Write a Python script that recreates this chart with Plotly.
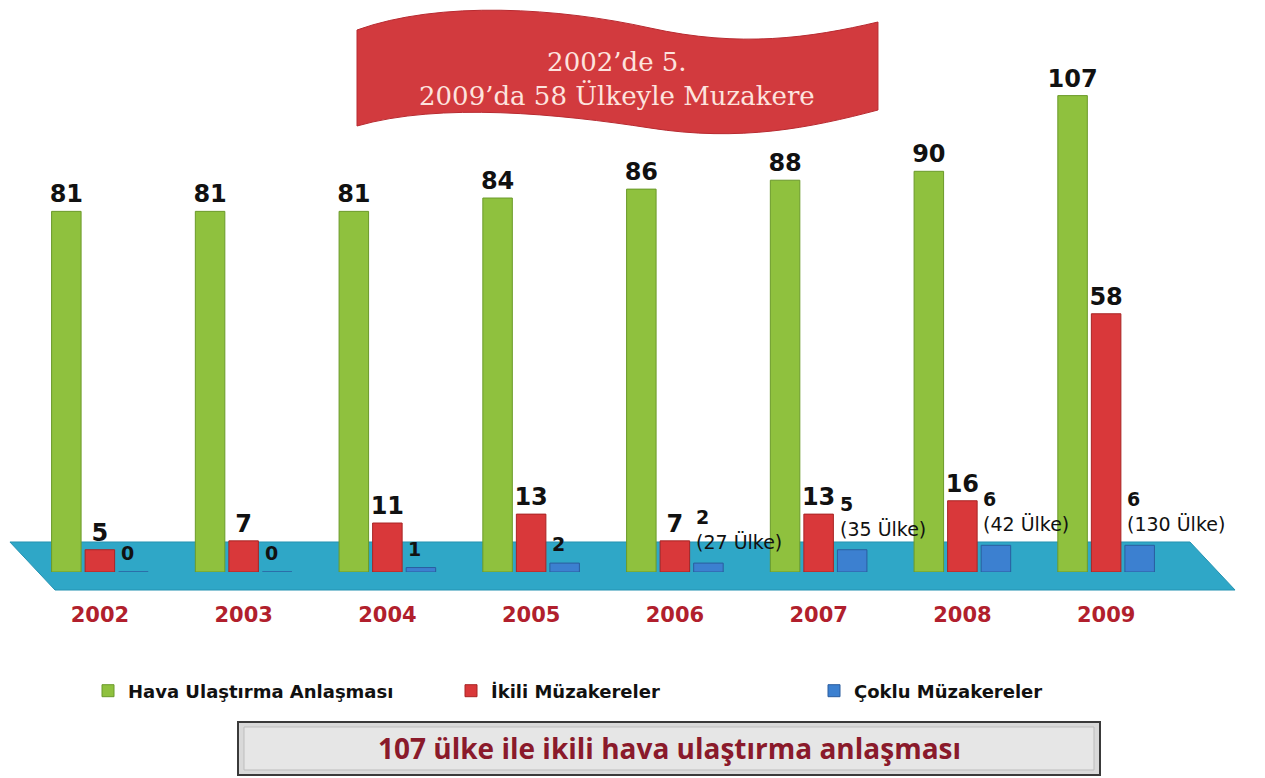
import plotly.graph_objects as go

# ---------------- data ----------------
years = ["2002", "2003", "2004", "2005", "2006", "2007", "2008", "2009"]
hava = [81, 81, 81, 84, 86, 88, 90, 107]          # Hava Ulaştırma Anlaşması
ikili = [5, 7, 11, 13, 7, 13, 16, 58]             # İkili Müzakereler
coklu = [0, 0, 1, 2, 2, 5, 6, 6]                  # Çoklu Müzakereler
coklu_ulke = [None, None, None, None, 27, 35, 42, 130]  # country counts in multilateral talks

series_names = ["Hava Ulaştırma Anlaşması", "İkili Müzakereler", "Çoklu Müzakereler"]
title_lines = ["2002’de 5.", "2009’da 58 Ülkeyle Muzakere"]
footer_text = "107 ülke ile ikili hava ulaştırma anlaşması"

# ---------------- layout geometry ----------------
W, H = 1265, 778
ML, MR, MT, MB = 28, 87, 60, 206
PW, PH = W - ML - MR, H - MT - MB
BASE = H - MB  # pixel row of y = 0


def px(x):
    return (x - ML) / PW


def py(y):
    return (BASE - y) / PH


def path(cmds):
    out = []
    for cmd, pts in cmds:
        if cmd in ("M", "L"):
            for a, b in pts:
                out.append(f"{cmd} {px(a):.4f},{py(b):.4f}")
        else:
            coords = " ".join(f"{px(a):.4f},{py(b):.4f}" for a, b in pts)
            out.append(f"{cmd} {coords}")
    return " ".join(out) + " Z"


GREEN, RED, BLUE = "#8fc13e", "#d9383a", "#3c80d0"
VAL_FONT = dict(family="DejaVu Sans", size=24, color="#111111", weight="bold")

fig = go.Figure()
fig.add_trace(go.Bar(
    x=years, y=hava, name=series_names[0],
    marker=dict(color=GREEN, line=dict(color="#6b9a2a", width=1)),
    text=hava, textposition="outside", textfont=VAL_FONT, cliponaxis=False,
    constraintext="none",
))
fig.add_trace(go.Bar(
    x=years, y=ikili, name=series_names[1],
    marker=dict(color=RED, line=dict(color="#a82424", width=1)),
    text=ikili, textposition="outside", textfont=VAL_FONT, cliponaxis=False,
    constraintext="none",
))
fig.add_trace(go.Bar(
    x=years, y=coklu, name=series_names[2],
    marker=dict(color=BLUE, line=dict(color="#2a5d9e", width=1)),
    cliponaxis=False,
))

annotations = []
for i, (v, n) in enumerate(zip(coklu, coklu_ulke)):
    if n is None:
        txt = f"<b>{v}</b>"
        shift = 6
    else:
        txt = f"<b>{v}</b><br>({n} Ülke)"
        shift = 8
    annotations.append(dict(
        x=i, y=v, xref="x", yref="y", text=txt, showarrow=False,
        xanchor="left", yanchor="bottom", xshift=19, yshift=shift, align="left",
        font=dict(family="DejaVu Sans", size=19, color="#111111"),
    ))

# title banner text
annotations.append(dict(
    x=px(617), y=py(79), xref="paper", yref="paper", showarrow=False,
    xanchor="center", yanchor="middle",
    text="<br>".join(title_lines), align="center",
    font=dict(family="DejaVu Serif", size=26, color="#fde3de"),
))
# footer text
annotations.append(dict(
    x=px(669), y=py(748), xref="paper", yref="paper", showarrow=False,
    xanchor="center", yanchor="middle",
    text=f"<b>{footer_text}</b>",
    font=dict(family="Open Sans", size=28, color="#8a1a2b"),
))

shapes = [
    # platform
    dict(type="path", xref="paper", yref="paper", layer="below",
         path=path([("M", [(10, 542)]), ("L", [(1190, 542), (1235, 590), (55, 590)])]),
         fillcolor="#2fa7c7", line=dict(color="#2593b2", width=1)),
    # banner ribbon
    dict(type="path", xref="paper", yref="paper", layer="below",
         path=path([
             ("M", [(357, 30)]),
             ("C", [(440, 0), (560, 8), (650, 28)]),
             ("C", [(740, 48), (810, 38), (878, 22)]),
             ("L", [(878, 110)]),
             ("C", [(810, 128), (740, 142), (650, 128)]),
             ("C", [(560, 114), (440, 102), (357, 126)]),
         ]),
         fillcolor="#d23a3e", line=dict(color="#b82a30", width=1)),
    # footer box
    dict(type="rect", xref="paper", yref="paper", layer="below",
         x0=px(238), x1=px(1100), y0=py(722), y1=py(775),
         fillcolor="#d9d9d9", line=dict(color="#3a3a3a", width=2)),
    dict(type="rect", xref="paper", yref="paper", layer="below",
         x0=px(244), x1=px(1094), y0=py(727), y1=py(770),
         fillcolor="#e6e6e6", line=dict(color="#bdbdbd", width=1)),
]

fig.update_layout(
    width=W, height=H,
    margin=dict(l=ML, r=MR, t=MT, b=MB),
    paper_bgcolor="white", plot_bgcolor="rgba(0,0,0,0)",
    barmode="group", bargap=0.3, bargroupgap=0.12,
    showlegend=True,
    legend=dict(
        orientation="h", xref="container", yref="container",
        x=88 / W, xanchor="left", y=(H - 691) / H, yanchor="middle",
        entrywidth=318, entrywidthmode="pixels", traceorder="normal",
        font=dict(family="DejaVu Sans", size=18, color="#111111", weight="bold"),
        bgcolor="rgba(0,0,0,0)",
    ),
    xaxis=dict(
        type="category", range=[-0.5, len(years) - 0.5],
        showgrid=False, zeroline=False, showline=False,
        ticks="", ticklabelstandoff=28,
        tickfont=dict(family="DejaVu Sans", size=21, color="#b11f2d", weight="bold"),
    ),
    yaxis=dict(range=[0, 115], visible=False, showgrid=False, zeroline=False),
    shapes=shapes,
    annotations=annotations,
)

fig.write_html("out.html", post_script="document.body.style.margin='0';",
               config={"displayModeBar": False})
